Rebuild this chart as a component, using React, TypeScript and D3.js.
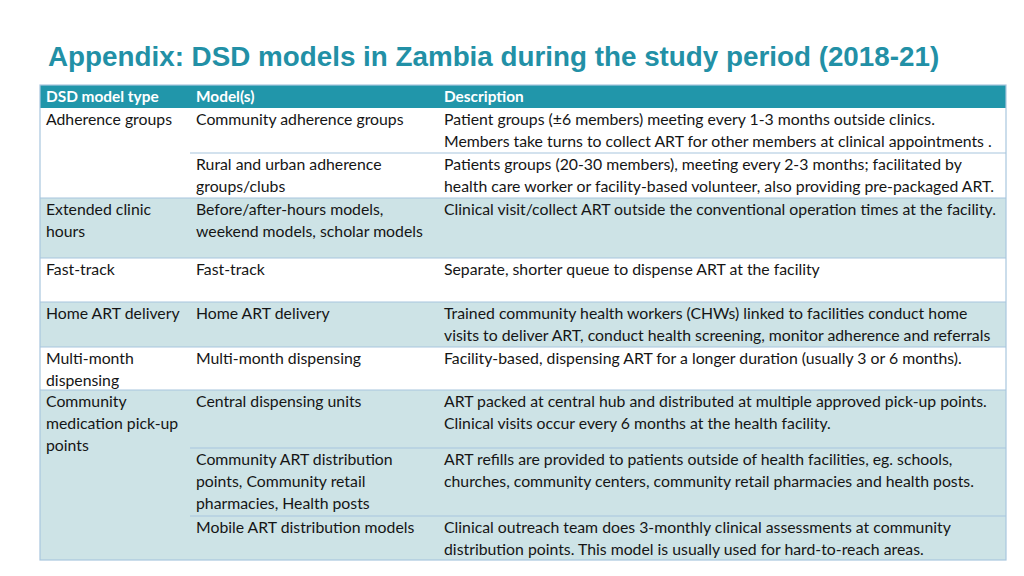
import * as d3 from "d3";
import React, { useEffect, useRef } from "react";

const title = "Appendix: DSD models in Zambia during the study period (2018-21)";
const headers = ["DSD model type", "Model(s)", "Description"];

const dsdTypes = [
  ["Adherence groups"],
  ["Extended clinic", "hours"],
  ["Fast-track"],
  ["Home ART delivery"],
  ["Multi-month", "dispensing"],
  ["Community", "medication pick-up", "points"],
];

const models = [
  [["Community adherence groups"], ["Rural and urban adherence", "groups/clubs"]],
  [["Before/after-hours models,", "weekend models, scholar models"]],
  [["Fast-track"]],
  [["Home ART delivery"]],
  [["Multi-month dispensing"]],
  [
    ["Central dispensing units"],
    ["Community ART distribution", "points, Community retail", "pharmacies, Health posts"],
    ["Mobile ART distribution models"],
  ],
];

const descriptions = [
  [
    [
      "Patient groups (±6 members) meeting every 1-3 months outside clinics.",
      "Members take turns to collect ART for other members at clinical appointments .",
    ],
    [
      "Patients groups (20-30 members), meeting every 2-3 months; facilitated by",
      "health care worker or facility-based volunteer, also providing pre-packaged ART.",
    ],
  ],
  [["Clinical visit/collect ART outside the conventional operation times at the facility."]],
  [["Separate, shorter queue to dispense ART at the facility"]],
  [
    [
      "Trained community health workers (CHWs) linked to facilities conduct home",
      "visits to deliver ART, conduct health screening, monitor adherence and referrals",
    ],
  ],
  [["Facility-based, dispensing ART for a longer duration (usually 3 or 6 months)."]],
  [
    [
      "ART packed at central hub and distributed at multiple approved pick-up points.",
      "Clinical visits occur every 6 months at the health facility.",
    ],
    [
      "ART refills are provided to patients outside of health facilities, eg. schools,",
      "churches, community centers, community retail pharmacies and health posts.",
    ],
    [
      "Clinical outreach team does 3-monthly clinical assessments at community",
      "distribution points. This model is usually used for hard-to-reach areas.",
    ],
  ],
];

// layout: row edges (y) per group, including sub-row splits
const subEdges = [
  [108, 153, 198],
  [198, 258],
  [258, 302],
  [302, 347],
  [347, 390],
  [390, 448, 516, 560],
];
const colEdges = [40, 190, 438, 1006];
const headerTop = 85;
const headerBottom = 108;

function App() {
  const ref = useRef<SVGSVGElement | null>(null);

  useEffect(() => {
    const svg = d3.select(ref.current);
    svg.selectAll("*").remove();

    const bodyFont = "Lato, 'Open Sans', sans-serif";
    const fontSize = 15.8;
    const lineH = 22;
    const pad = 6;
    const teal = "#2196aa";
    const light = "#cde3e6";
    const border = "#a8c6de";

    svg
      .append("text")
      .attr("x", 48)
      .attr("y", 66)
      .attr("fill", "#2290a6")
      .attr("font-family", "'Liberation Sans', Arial, sans-serif")
      .attr("font-weight", "bold")
      .attr("font-size", 27.8)
      .text(title);

    const x = d3.scaleOrdinal<number, number>().domain([0, 1, 2]).range(colEdges.slice(0, 3));
    const fill = (i: number) => (i % 2 === 1 ? light : "#ffffff");

    // header
    svg
      .append("rect")
      .attr("x", colEdges[0])
      .attr("y", headerTop)
      .attr("width", colEdges[3] - colEdges[0])
      .attr("height", headerBottom - headerTop)
      .attr("fill", teal);
    svg
      .append("g")
      .selectAll("text")
      .data(headers)
      .join("text")
      .attr("x", (_, i) => x(i) + pad)
      .attr("y", headerTop + 17)
      .attr("fill", "#fff")
      .attr("font-family", bodyFont)
      .attr("font-weight", "bold")
      .attr("font-size", fontSize - 0.4)
      .text((d) => d);

    const body = svg.append("g");

    dsdTypes.forEach((typeLines, gi) => {
      const edges = subEdges[gi];
      const top = edges[0];
      const bottom = edges[edges.length - 1];
      const g = body.append("g");

      g.append("rect")
        .attr("x", colEdges[0])
        .attr("y", top)
        .attr("width", colEdges[3] - colEdges[0])
        .attr("height", bottom - top)
        .attr("fill", fill(gi));

      const drawLines = (lines: string[], col: number, y0: number) => {
        g.append("g")
          .selectAll("text")
          .data(lines)
          .join("text")
          .attr("x", x(col) + pad)
          .attr("y", (_, li) => y0 + 16.5 + li * lineH)
          .attr("fill", "#151515")
          .attr("font-family", bodyFont)
          .attr("font-size", fontSize)
          .text((d) => d);
      };

      drawLines(typeLines, 0, top);
      models[gi].forEach((m, si) => drawLines(m, 1, edges[si]));
      descriptions[gi].forEach((d, si) => drawLines(d, 2, edges[si]));

      // sub-row separators
      edges.slice(1, -1).forEach((y) => {
        g.append("line")
          .attr("x1", colEdges[1])
          .attr("x2", colEdges[3])
          .attr("y1", y)
          .attr("y2", y)
          .attr("stroke", border)
          .attr("stroke-width", 1.2);
      });
    });

    // group separators
    const groupLines = subEdges.map((e) => e[e.length - 1]).slice(0, -1);
    body
      .append("g")
      .selectAll("line")
      .data(groupLines)
      .join("line")
      .attr("x1", colEdges[0])
      .attr("x2", colEdges[3])
      .attr("y1", (d) => d)
      .attr("y2", (d) => d)
      .attr("stroke", border)
      .attr("stroke-width", 1.2);

    // outer border
    body
      .append("rect")
      .attr("x", colEdges[0])
      .attr("y", headerTop)
      .attr("width", colEdges[3] - colEdges[0])
      .attr("height", subEdges[subEdges.length - 1].slice(-1)[0] - headerTop)
      .attr("fill", "none")
      .attr("stroke", border)
      .attr("stroke-width", 1.2);

    // fit text widths: compress any line that overruns its column
    body.selectAll<SVGTextElement, string>("text").each(function () {
      const el = this;
      const xPos = +el.getAttribute("x")!;
      const col = colEdges.findIndex((c) => c > xPos);
      const maxW = colEdges[col] - xPos - 4;
      const w = el.getComputedTextLength();
      if (w > maxW) {
        d3.select(el).attr("textLength", maxW).attr("lengthAdjust", "spacingAndGlyphs");
      }
    });
  }, []);

  return (
    <div style={{ position: "absolute", left: 0, top: 0 }}>
      <svg ref={ref} width={1024} height={576} style={{ display: "block", background: "#fff" }} />
    </div>
  );
}

export default App;
